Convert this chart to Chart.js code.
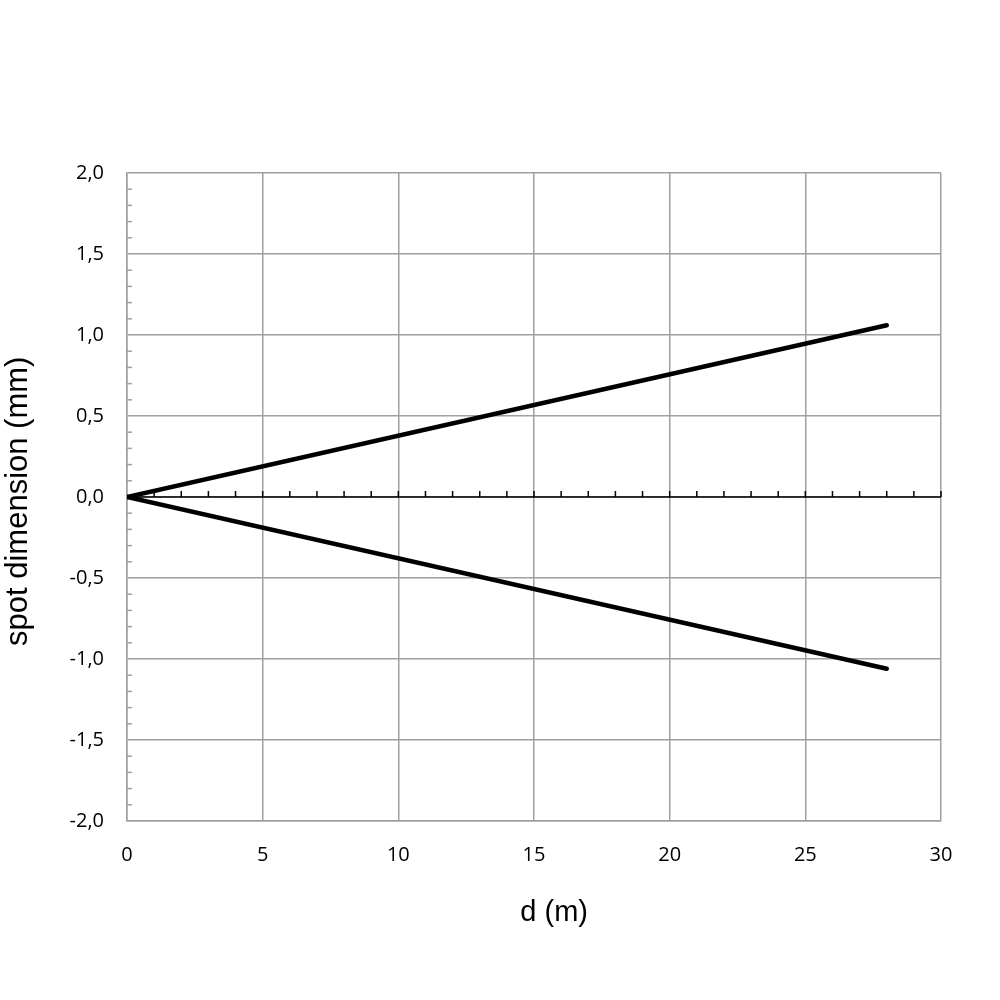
<!DOCTYPE html>
<html>
<head>
<meta charset="utf-8">
<script src="https://cdn.jsdelivr.net/npm/chart.js@4"></script>
<style>
html,body{margin:0;padding:0;background:#fff;}
#wrap{width:1000px;height:1000px;}
</style>
</head>
<body>
<div id="wrap"><canvas id="c" width="1000" height="1000"></canvas></div>
<script>
const distances = [0, 28];
const upperEdge = [0, 1.06];
const lowerEdge = [0, -1.06];
const xTickValues = [0, 5, 10, 15, 20, 25, 30];
const yTickValues = [-2.0, -1.5, -1.0, -0.5, 0.0, 0.5, 1.0, 1.5, 2.0];

const GRID = '#a0a0a0';

const minorTicks = {
  id: 'minorTicks',
  afterDatasetsDraw(chart) {
    const ctx = chart.ctx;
    const xs = chart.scales.x, ys = chart.scales.y;
    ctx.save();
    ctx.strokeStyle = GRID;
    ctx.lineWidth = 1.5;
    const left = xs.getPixelForValue(0);
    for (let i = -20; i <= 20; i++) {
      if (i % 5 === 0) continue;
      const py = ys.getPixelForValue(i / 10);
      ctx.beginPath();
      ctx.moveTo(left, py);
      ctx.lineTo(left + 5, py);
      ctx.stroke();
    }
    ctx.strokeStyle = '#000';
    const zy = ys.getPixelForValue(0);
    for (let i = 1; i <= 30; i++) {
      const px = xs.getPixelForValue(i);
      ctx.beginPath();
      ctx.moveTo(px, zy);
      ctx.lineTo(px, zy - 6);
      ctx.stroke();
    }
    ctx.beginPath();
    ctx.lineWidth = 1.5;
    ctx.moveTo(xs.left, zy);
    ctx.lineTo(xs.right, zy);
    ctx.stroke();
    ctx.restore();
  }
};

new Chart(document.getElementById('c'), {
  type: 'scatter',
  data: {
    datasets: [
      {
        data: distances.map((d, i) => ({x: d, y: upperEdge[i]})),
        showLine: true, borderColor: '#000', borderWidth: 4.5, pointRadius: 0,
        borderCapStyle: 'round'
      },
      {
        data: distances.map((d, i) => ({x: d, y: lowerEdge[i]})),
        showLine: true, borderColor: '#000', borderWidth: 4.5, pointRadius: 0,
        borderCapStyle: 'round'
      }
    ]
  },
  options: {
    responsive: false,
    animation: false,
    devicePixelRatio: 1,
    layout: {padding: {left: 0, top: 173, right: 59, bottom: 0}},
    plugins: {legend: {display: false}, tooltip: {enabled: false}},
    scales: {
      x: {
        type: 'linear', min: 0, max: 30,
        afterBuildTicks(s) { s.ticks = xTickValues.map(v => ({value: v})); },
        afterFit(s) { s.height = 179; },
        grid: {color: GRID, lineWidth: 1.5, drawTicks: false},
        border: {color: GRID, width: 1.5},
        ticks: {
          padding: 22, color: '#000', maxRotation: 0,
          font: {family: 'Open Sans', size: 20},
          callback: v => String(v)
        },
        title: {
          display: true, text: '     d (m)', color: '#000',
          font: {family: 'Liberation Sans', size: 29},
          padding: {top: 0, bottom: 70}
        }
      },
      y: {
        type: 'linear', min: -2, max: 2,
        afterBuildTicks(s) { s.ticks = yTickValues.map(v => ({value: v})); },
        afterFit(s) { s.width = 127; },
        grid: {color: GRID, lineWidth: 1.5, drawTicks: false},
        border: {color: GRID, width: 1.5},
        ticks: {
          padding: 23, color: '#000',
          font: {family: 'Open Sans', size: 20},
          callback: v => v.toFixed(1).replace('.', ',')
        },
        title: {
          display: true, text: 'spot dimension (mm) ', color: '#000',
          font: {family: 'Liberation Sans', size: 31},
          padding: {top: 0, bottom: 0}
        }
      }
    }
  },
  plugins: [minorTicks]
});
</script>
</body>
</html>
